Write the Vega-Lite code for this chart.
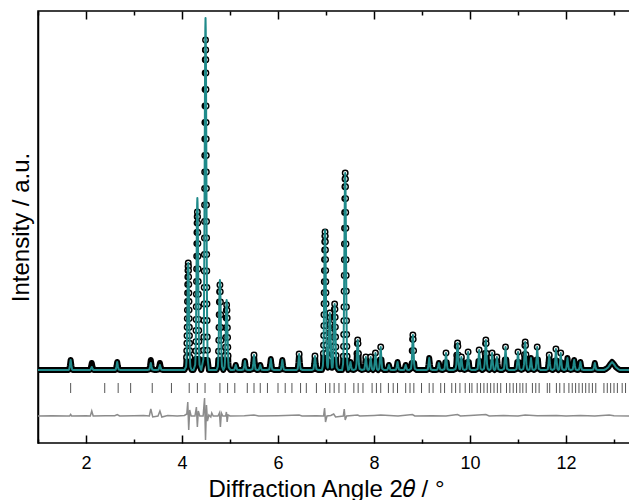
{
"$schema":"https://vega.github.io/schema/vega-lite/v6.json",
"width":592,"height":432,
"autosize":{"type":"none"},
"padding":{"left":38,"top":11,"right":0,"bottom":57},
"background":"white",
"config":{"view":{"stroke":"#000","strokeWidth":1.5},"font":"Liberation Sans"},
"resolve":{"axis":{"x":"independent","y":"independent"}},
"datasets":{
"prof":[
{"x":1,"o":73,"c":73},{"x":1.04,"o":73,"c":73},{"x":1.08,"o":73,"c":73},{"x":1.12,"o":73,"c":73},{"x":1.16,"o":73,"c":73},{"x":1.2,"o":73,"c":73},{"x":1.24,"o":73,"c":73},{"x":1.28,"o":73,"c":73},{"x":1.32,"o":73,"c":73},{"x":1.36,"o":73,"c":73},{"x":1.4,"o":73,"c":73},{"x":1.44,"o":73,"c":73},{"x":1.48,"o":73,"c":73},{"x":1.52,"o":73,"c":73},{"x":1.56,"o":73,"c":73},{"x":1.6,"o":73,"c":73},{"x":1.64,"o":73,"c":73},
{"x":1.65,"o":73.6,"c":73.6},{"x":1.665,"o":77.5,"c":77.5},{"x":1.68,"o":83,"c":83},{"x":1.695,"o":77.5,"c":77.5},{"x":1.71,"o":73.6,"c":73.6},
{"x":1.72,"o":73,"c":73},{"x":1.76,"o":73,"c":73},{"x":1.8,"o":73,"c":73},{"x":1.84,"o":73,"c":73},{"x":1.88,"o":73,"c":73},{"x":1.92,"o":73,"c":73},{"x":1.96,"o":73,"c":73},{"x":2,"o":73,"c":73},{"x":2.04,"o":73,"c":73},{"x":2.08,"o":73,"c":73},
{"x":2.09,"o":73.4,"c":73.2},{"x":2.105,"o":76.2,"c":74.4},{"x":2.12,"o":80,"c":76},{"x":2.135,"o":76.2,"c":74.4},{"x":2.15,"o":73.4,"c":73.2},
{"x":2.16,"o":73,"c":73},{"x":2.2,"o":73,"c":73},{"x":2.24,"o":73,"c":73},{"x":2.28,"o":73,"c":73},{"x":2.32,"o":73,"c":73},{"x":2.36,"o":73,"c":73},{"x":2.4,"o":73,"c":73},{"x":2.44,"o":73,"c":73},{"x":2.48,"o":73,"c":73},{"x":2.52,"o":73,"c":73},{"x":2.56,"o":73,"c":73},{"x":2.6,"o":73,"c":73},
{"x":2.62,"o":73.5,"c":73.5},{"x":2.635,"o":76.6,"c":76.6},{"x":2.65,"o":81,"c":81},{"x":2.665,"o":76.6,"c":76.6},{"x":2.68,"o":73.5,"c":73.5},
{"x":2.72,"o":73,"c":73},{"x":2.76,"o":73,"c":73},{"x":2.8,"o":73,"c":73},{"x":2.84,"o":73,"c":73},{"x":2.88,"o":73,"c":73},{"x":2.92,"o":73,"c":73},{"x":2.96,"o":73,"c":73},{"x":3,"o":73,"c":73},{"x":3.04,"o":73,"c":73},{"x":3.08,"o":73,"c":73},{"x":3.12,"o":73,"c":73},{"x":3.16,"o":73,"c":73},{"x":3.2,"o":73,"c":73},{"x":3.24,"o":73,"c":73},{"x":3.28,"o":73,"c":73},
{"x":3.32,"o":73.6,"c":73.4},{"x":3.335,"o":77.5,"c":76.2},{"x":3.35,"o":83,"c":80},{"x":3.365,"o":77.5,"c":76.2},{"x":3.38,"o":73.6,"c":73.4},
{"x":3.42,"o":73,"c":73},{"x":3.46,"o":73,"c":73},
{"x":3.51,"o":73.4,"c":73.3},{"x":3.525,"o":76.2,"c":75.3},{"x":3.54,"o":80,"c":78},{"x":3.555,"o":76.2,"c":75.3},{"x":3.57,"o":73.4,"c":73.3},
{"x":3.61,"o":73,"c":73},{"x":3.65,"o":73,"c":73},{"x":3.69,"o":73,"c":73},{"x":3.73,"o":73,"c":73},{"x":3.77,"o":73,"c":73},{"x":3.81,"o":73,"c":73},{"x":3.85,"o":73,"c":73},{"x":3.89,"o":73,"c":73},{"x":3.93,"o":73,"c":73},{"x":3.97,"o":73,"c":73},{"x":4.01,"o":73,"c":73},{"x":4.05,"o":73,"c":73},
{"x":4.085,"o":76.2,"c":76.2},{"x":4.091,"o":80.5,"c":80.5},{"x":4.095,"o":85.8,"c":85.8},{"x":4.0985,"o":92.3,"c":92.3},{"x":4.1017,"o":99.8,"c":99.8},{"x":4.1043,"o":107.2,"c":107.2},{"x":4.107,"o":115.8,"c":115.8},{"x":4.1094,"o":124.4,"c":124.4},{"x":4.1117,"o":132.9,"c":132.9},{"x":4.1139,"o":141.5,"c":141.5},{"x":4.1162,"o":150,"c":150},{"x":4.1186,"o":158.6,"c":158.6},{"x":4.121,"o":166.1,"c":166.1},{"x":4.1235,"o":172.5,"c":172.5},{"x":4.1258,"o":176.8,"c":176.8},{"x":4.13,"o":180,"c":180},
{"x":4.1342,"o":176.8,"c":176.8},{"x":4.1365,"o":172.5,"c":172.5},{"x":4.139,"o":166.1,"c":166.1},{"x":4.1414,"o":158.6,"c":158.6},{"x":4.1438,"o":150,"c":150},{"x":4.1461,"o":141.5,"c":141.5},{"x":4.1483,"o":132.9,"c":132.9},{"x":4.1506,"o":124.4,"c":124.4},{"x":4.153,"o":115.8,"c":115.8},{"x":4.1557,"o":107.2,"c":107.2},{"x":4.1583,"o":99.8,"c":99.8},{"x":4.1615,"o":92.3,"c":92.3},{"x":4.165,"o":85.8,"c":85.8},{"x":4.169,"o":80.5,"c":80.5},{"x":4.175,"o":76.2,"c":76.2},
{"x":4.2,"o":73,"c":73},{"x":4.24,"o":73,"c":73},
{"x":4.275,"o":77.7,"c":78.2},{"x":4.281,"o":84.1,"c":85},{"x":4.285,"o":92,"c":93.6},{"x":4.2885,"o":101.4,"c":104},{"x":4.2917,"o":112.5,"c":116},{"x":4.2943,"o":123.6,"c":128},{"x":4.297,"o":136.2,"c":141.8},{"x":4.2994,"o":148.8,"c":155.6},{"x":4.3017,"o":161.5,"c":169.3},{"x":4.3039,"o":174.1,"c":183.1},{"x":4.3062,"o":186.8,"c":196.8},{"x":4.3086,"o":199.4,"c":210.6},{"x":4.311,"o":210.5,"c":222.6},{"x":4.3135,"o":219.9,"c":233},{"x":4.3158,"o":226.3,"c":239.8},{"x":4.32,"o":231,"c":245},
{"x":4.3242,"o":226.3,"c":239.8},{"x":4.3265,"o":219.9,"c":233},{"x":4.329,"o":210.5,"c":222.6},{"x":4.3314,"o":199.4,"c":210.6},{"x":4.3338,"o":186.8,"c":196.8},{"x":4.3361,"o":174.1,"c":183.1},{"x":4.3383,"o":161.5,"c":169.3},{"x":4.3406,"o":148.8,"c":155.6},{"x":4.343,"o":136.2,"c":141.8},{"x":4.3457,"o":123.6,"c":128},{"x":4.3483,"o":112.5,"c":116},{"x":4.3515,"o":101.4,"c":104},{"x":4.355,"o":92,"c":93.6},{"x":4.359,"o":84.1,"c":85},{"x":4.365,"o":77.7,"c":78.2},
{"x":4.4,"o":73,"c":73},
{"x":4.445,"o":82.9,"c":83.6},{"x":4.4497,"o":92.8,"c":94.1},{"x":4.4535,"o":106,"c":108.2},{"x":4.4569,"o":122.5,"c":125.8},{"x":4.4595,"o":139,"c":143.4},{"x":4.4617,"o":155.5,"c":161},{"x":4.4636,"o":172,"c":178.6},{"x":4.4654,"o":188.5,"c":196.2},{"x":4.467,"o":205,"c":213.8},{"x":4.4685,"o":221.5,"c":231.4},{"x":4.47,"o":238,"c":249},{"x":4.4714,"o":254.5,"c":266.6},{"x":4.4728,"o":271,"c":284.2},{"x":4.4742,"o":287.5,"c":301.8},{"x":4.4756,"o":304,"c":319.4},{"x":4.4771,"o":320.5,"c":337},{"x":4.4786,"o":337,"c":354.6},{"x":4.4803,"o":353.5,"c":372.2},{"x":4.4822,"o":370,"c":389.8},{"x":4.484,"o":383.2,"c":403.9},{"x":4.4858,"o":393.1,"c":414.4},{"x":4.49,"o":403,"c":425},
{"x":4.4942,"o":393.1,"c":414.4},{"x":4.496,"o":383.2,"c":403.9},{"x":4.4978,"o":370,"c":389.8},{"x":4.4997,"o":353.5,"c":372.2},{"x":4.5014,"o":337,"c":354.6},{"x":4.5029,"o":320.5,"c":337},{"x":4.5044,"o":304,"c":319.4},{"x":4.5058,"o":287.5,"c":301.8},{"x":4.5072,"o":271,"c":284.2},{"x":4.5086,"o":254.5,"c":266.6},{"x":4.51,"o":238,"c":249},{"x":4.5115,"o":221.5,"c":231.4},{"x":4.513,"o":205,"c":213.8},{"x":4.5146,"o":188.5,"c":196.2},{"x":4.5164,"o":172,"c":178.6},{"x":4.5183,"o":155.5,"c":161},{"x":4.5205,"o":139,"c":143.4},{"x":4.5231,"o":122.5,"c":125.8},{"x":4.5265,"o":106,"c":108.2},{"x":4.5303,"o":92.8,"c":94.1},{"x":4.535,"o":82.9,"c":83.6},
{"x":4.56,"o":73,"c":73},{"x":4.6,"o":73,"c":73},{"x":4.64,"o":73,"c":73},{"x":4.68,"o":73,"c":73},{"x":4.72,"o":73,"c":73},
{"x":4.747,"o":76.4,"c":76.6},{"x":4.755,"o":83.2,"c":83.8},{"x":4.7604,"o":91.7,"c":92.8},{"x":4.7654,"o":102.8,"c":104.5},{"x":4.77,"o":115.5,"c":118},{"x":4.7742,"o":128.3,"c":131.5},{"x":4.7786,"o":141,"c":145},{"x":4.7831,"o":151.2,"c":155.8},{"x":4.79,"o":158,"c":163},{"x":4.7969,"o":151.2,"c":155.8},{"x":4.8014,"o":141,"c":145},{"x":4.8058,"o":128.3,"c":131.5},{"x":4.81,"o":115.5,"c":118},{"x":4.8146,"o":102.8,"c":104.5},{"x":4.8196,"o":91.7,"c":92.8},{"x":4.825,"o":83.2,"c":83.8},{"x":4.833,"o":76.4,"c":76.6},
{"x":4.86,"o":73,"c":73},
{"x":4.887,"o":75.6,"c":75.8},{"x":4.895,"o":80.8,"c":81.4},{"x":4.9004,"o":87.3,"c":88.4},{"x":4.9054,"o":95.8,"c":97.5},{"x":4.91,"o":105.5,"c":108},{"x":4.9142,"o":115.3,"c":118.5},{"x":4.9186,"o":125,"c":129},{"x":4.9231,"o":132.8,"c":137.4},{"x":4.93,"o":138,"c":143},{"x":4.9369,"o":132.8,"c":137.4},{"x":4.9414,"o":125,"c":129},{"x":4.9458,"o":115.3,"c":118.5},{"x":4.95,"o":105.5,"c":108},{"x":4.9546,"o":95.8,"c":97.5},{"x":4.9596,"o":87.3,"c":88.4},{"x":4.965,"o":80.8,"c":81.4},{"x":4.973,"o":75.6,"c":75.8},
{"x":5.01,"o":73,"c":73},{"x":5.05,"o":73,"c":73},
{"x":5.09,"o":73.3,"c":73.3},{"x":5.105,"o":75.3,"c":75.3},{"x":5.12,"o":78,"c":78},{"x":5.135,"o":75.3,"c":75.3},{"x":5.15,"o":73.3,"c":73.3},
{"x":5.19,"o":73,"c":73},{"x":5.24,"o":73,"c":73},
{"x":5.28,"o":73.5,"c":73.5},{"x":5.295,"o":77,"c":77},{"x":5.31,"o":82,"c":82},{"x":5.325,"o":77,"c":77},{"x":5.34,"o":73.5,"c":73.5},
{"x":5.38,"o":73,"c":73},{"x":5.42,"o":73,"c":73},
{"x":5.47,"o":73.9,"c":73.9},{"x":5.485,"o":79.8,"c":79.8},{"x":5.5,"o":88,"c":88},{"x":5.515,"o":79.8,"c":79.8},{"x":5.53,"o":73.9,"c":73.9},
{"x":5.565,"o":73,"c":73},
{"x":5.6,"o":73.3,"c":73.3},{"x":5.615,"o":75.3,"c":75.3},{"x":5.63,"o":78,"c":78},{"x":5.645,"o":75.3,"c":75.3},{"x":5.66,"o":73.3,"c":73.3},
{"x":5.7,"o":73,"c":73},{"x":5.74,"o":73,"c":73},{"x":5.78,"o":73,"c":73},
{"x":5.82,"o":73.7,"c":73.7},{"x":5.835,"o":78,"c":78},{"x":5.85,"o":84,"c":84},{"x":5.865,"o":78,"c":78},{"x":5.88,"o":73.7,"c":73.7},
{"x":5.92,"o":73,"c":73},{"x":5.96,"o":73,"c":73},{"x":6,"o":73,"c":73},{"x":6.04,"o":73,"c":73},
{"x":6.06,"o":73.6,"c":73.6},{"x":6.075,"o":77.5,"c":77.5},{"x":6.09,"o":83,"c":83},{"x":6.105,"o":77.5,"c":77.5},{"x":6.12,"o":73.6,"c":73.6},
{"x":6.16,"o":73,"c":73},{"x":6.2,"o":73,"c":73},{"x":6.24,"o":73,"c":73},{"x":6.28,"o":73,"c":73},{"x":6.32,"o":73,"c":73},{"x":6.36,"o":73,"c":73},{"x":6.385,"o":73,"c":73},
{"x":6.41,"o":74,"c":74},{"x":6.425,"o":80.2,"c":80.2},{"x":6.44,"o":89,"c":89},{"x":6.455,"o":80.2,"c":80.2},{"x":6.47,"o":74,"c":74},
{"x":6.51,"o":73,"c":73},{"x":6.55,"o":73,"c":73},{"x":6.59,"o":73,"c":73},{"x":6.63,"o":73,"c":73},{"x":6.67,"o":73,"c":73},{"x":6.71,"o":73,"c":73},
{"x":6.74,"o":73.8,"c":73.8},{"x":6.755,"o":79.3,"c":79.3},{"x":6.77,"o":87,"c":87},{"x":6.785,"o":79.3,"c":79.3},{"x":6.8,"o":73.8,"c":73.8},
{"x":6.84,"o":73,"c":73},{"x":6.88,"o":73,"c":73},{"x":6.915,"o":73,"c":73},
{"x":6.935,"o":77.1,"c":77.2},{"x":6.941,"o":82.7,"c":82.8},{"x":6.945,"o":89.6,"c":89.8},{"x":6.9485,"o":97.8,"c":98.2},{"x":6.9517,"o":107.5,"c":108},{"x":6.9543,"o":117.2,"c":117.8},{"x":6.957,"o":128.2,"c":129},{"x":6.9594,"o":139.2,"c":140.2},{"x":6.9617,"o":150.3,"c":151.4},{"x":6.9639,"o":161.3,"c":162.6},{"x":6.9662,"o":172.4,"c":173.8},{"x":6.9686,"o":183.4,"c":185},{"x":6.971,"o":193.1,"c":194.8},{"x":6.9735,"o":201.3,"c":203.2},{"x":6.9758,"o":206.9,"c":208.8},{"x":6.98,"o":211,"c":213},
{"x":6.9842,"o":206.9,"c":208.8},{"x":6.9865,"o":201.3,"c":203.2},{"x":6.989,"o":193.1,"c":194.8},{"x":6.9914,"o":183.4,"c":185},{"x":6.9938,"o":172.4,"c":173.8},{"x":6.9961,"o":161.3,"c":162.6},{"x":6.9983,"o":150.3,"c":151.4},{"x":7.0006,"o":139.2,"c":140.2},{"x":7.003,"o":128.2,"c":129},{"x":7.0057,"o":117.2,"c":117.8},{"x":7.0083,"o":107.5,"c":108},{"x":7.0115,"o":97.8,"c":98.2},{"x":7.015,"o":89.6,"c":89.8},{"x":7.019,"o":82.7,"c":82.8},{"x":7.025,"o":77.1,"c":77.2},
{"x":7.037,"o":75.3,"c":75.3},{"x":7.045,"o":79.8,"c":79.8},{"x":7.0504,"o":85.5,"c":85.5},{"x":7.0554,"o":93,"c":93},{"x":7.06,"o":101.5,"c":101.5},{"x":7.0642,"o":110.1,"c":110.1},{"x":7.0686,"o":118.6,"c":118.6},{"x":7.0731,"o":125.4,"c":125.4},{"x":7.08,"o":130,"c":130},{"x":7.0869,"o":125.4,"c":125.4},{"x":7.0914,"o":118.6,"c":118.6},{"x":7.0958,"o":110.1,"c":110.1},{"x":7.1,"o":101.5,"c":101.5},{"x":7.1046,"o":93,"c":93},{"x":7.1096,"o":85.5,"c":85.5},{"x":7.115,"o":79.8,"c":79.8},{"x":7.123,"o":75.3,"c":75.3},
{"x":7.137,"o":75.6,"c":75.6},{"x":7.145,"o":80.9,"c":80.9},{"x":7.1504,"o":87.5,"c":87.5},{"x":7.1554,"o":96.1,"c":96.1},{"x":7.16,"o":106,"c":106},{"x":7.1642,"o":115.9,"c":115.9},{"x":7.1686,"o":125.8,"c":125.8},{"x":7.1731,"o":133.7,"c":133.7},{"x":7.18,"o":139,"c":139},{"x":7.1869,"o":133.7,"c":133.7},{"x":7.1914,"o":125.8,"c":125.8},{"x":7.1958,"o":115.9,"c":115.9},{"x":7.2,"o":106,"c":106},{"x":7.2046,"o":96.1,"c":96.1},{"x":7.2096,"o":87.5,"c":87.5},{"x":7.215,"o":80.9,"c":80.9},{"x":7.223,"o":75.6,"c":75.6},
{"x":7.26,"o":73,"c":73},{"x":7.3,"o":73,"c":73},{"x":7.335,"o":73,"c":73},
{"x":7.355,"o":78.9,"c":78.9},{"x":7.361,"o":86.8,"c":86.8},{"x":7.365,"o":96.6,"c":96.6},{"x":7.3685,"o":108.5,"c":108.5},{"x":7.3717,"o":122.3,"c":122.3},{"x":7.3743,"o":136,"c":136},{"x":7.377,"o":151.8,"c":151.8},{"x":7.3794,"o":167.6,"c":167.6},{"x":7.3817,"o":183.3,"c":183.3},{"x":7.3839,"o":199.1,"c":199.1},{"x":7.3862,"o":214.8,"c":214.8},{"x":7.3886,"o":230.6,"c":230.6},{"x":7.391,"o":244.4,"c":244.4},{"x":7.3935,"o":256.2,"c":256.2},{"x":7.3958,"o":264.1,"c":264.1},{"x":7.4,"o":270,"c":270},
{"x":7.4042,"o":264.1,"c":264.1},{"x":7.4065,"o":256.2,"c":256.2},{"x":7.409,"o":244.4,"c":244.4},{"x":7.4114,"o":230.6,"c":230.6},{"x":7.4138,"o":214.8,"c":214.8},{"x":7.4161,"o":199.1,"c":199.1},{"x":7.4183,"o":183.3,"c":183.3},{"x":7.4206,"o":167.6,"c":167.6},{"x":7.423,"o":151.8,"c":151.8},{"x":7.4257,"o":136,"c":136},{"x":7.4283,"o":122.3,"c":122.3},{"x":7.4315,"o":108.5,"c":108.5},{"x":7.435,"o":96.6,"c":96.6},{"x":7.439,"o":86.8,"c":86.8},{"x":7.445,"o":78.9,"c":78.9},
{"x":7.462,"o":73,"c":73},
{"x":7.48,"o":73.5,"c":73.5},{"x":7.495,"o":76.6,"c":76.6},{"x":7.51,"o":81,"c":81},{"x":7.525,"o":76.6,"c":76.6},{"x":7.54,"o":73.5,"c":73.5},
{"x":7.58,"o":73,"c":73},
{"x":7.62,"o":74.2,"c":74.2},{"x":7.635,"o":79,"c":79},{"x":7.645,"o":89.5,"c":89.5},{"x":7.653,"o":99.4,"c":99.4},{"x":7.66,"o":103,"c":103},{"x":7.667,"o":99.4,"c":99.4},{"x":7.675,"o":89.5,"c":89.5},{"x":7.685,"o":79,"c":79},{"x":7.7,"o":74.2,"c":74.2},
{"x":7.75,"o":73,"c":73},
{"x":7.8,"o":73.8,"c":73.8},{"x":7.815,"o":78.9,"c":78.9},{"x":7.83,"o":86,"c":86},{"x":7.845,"o":78.9,"c":78.9},{"x":7.86,"o":73.8,"c":73.8},
{"x":7.88,"o":73,"c":73},
{"x":7.9,"o":73.8,"c":73.8},{"x":7.915,"o":78.9,"c":78.9},{"x":7.93,"o":86,"c":86},{"x":7.945,"o":78.9,"c":78.9},{"x":7.96,"o":73.8,"c":73.8},
{"x":7.98,"o":73,"c":73},
{"x":8,"o":74,"c":74},{"x":8.015,"o":80.7,"c":80.7},{"x":8.03,"o":90,"c":90},{"x":8.045,"o":80.7,"c":80.7},{"x":8.06,"o":74,"c":74},
{"x":8.085,"o":73,"c":73},
{"x":8.11,"o":74.4,"c":74.4},{"x":8.125,"o":83.4,"c":83.4},{"x":8.14,"o":96,"c":96},{"x":8.155,"o":83.4,"c":83.4},{"x":8.17,"o":74.4,"c":74.4},
{"x":8.21,"o":73,"c":73},{"x":8.25,"o":73,"c":73},
{"x":8.28,"o":73.3,"c":73.3},{"x":8.295,"o":75.3,"c":75.3},{"x":8.31,"o":78,"c":78},{"x":8.325,"o":75.3,"c":75.3},{"x":8.34,"o":73.3,"c":73.3},
{"x":8.38,"o":73,"c":73},{"x":8.42,"o":73,"c":73},
{"x":8.46,"o":73.5,"c":73.5},{"x":8.475,"o":76.6,"c":76.6},{"x":8.49,"o":81,"c":81},{"x":8.505,"o":76.6,"c":76.6},{"x":8.52,"o":73.5,"c":73.5},
{"x":8.56,"o":73,"c":73},{"x":8.6,"o":73,"c":73},
{"x":8.63,"o":73.3,"c":73.3},{"x":8.645,"o":75.3,"c":75.3},{"x":8.66,"o":78,"c":78},{"x":8.675,"o":75.3,"c":75.3},{"x":8.69,"o":73.3,"c":73.3},
{"x":8.73,"o":73,"c":73},
{"x":8.77,"o":74.4,"c":74.4},{"x":8.785,"o":80,"c":80},{"x":8.795,"o":92.3,"c":92.3},{"x":8.803,"o":103.8,"c":103.8},{"x":8.81,"o":108,"c":108},{"x":8.817,"o":103.8,"c":103.8},{"x":8.825,"o":92.3,"c":92.3},{"x":8.835,"o":80,"c":80},{"x":8.85,"o":74.4,"c":74.4},
{"x":8.89,"o":73,"c":73},{"x":8.93,"o":73,"c":73},{"x":8.97,"o":73,"c":73},{"x":9.01,"o":73,"c":73},{"x":9.05,"o":73,"c":73},{"x":9.09,"o":73,"c":73},
{"x":9.12,"o":73.7,"c":73.7},{"x":9.135,"o":78.4,"c":78.4},{"x":9.15,"o":85,"c":85},{"x":9.165,"o":78.4,"c":78.4},{"x":9.18,"o":73.7,"c":73.7},
{"x":9.22,"o":73,"c":73},{"x":9.26,"o":73,"c":73},{"x":9.295,"o":73,"c":73},
{"x":9.32,"o":73.4,"c":73.4},{"x":9.335,"o":76.2,"c":76.2},{"x":9.35,"o":80,"c":80},{"x":9.365,"o":76.2,"c":76.2},{"x":9.38,"o":73.4,"c":73.4},
{"x":9.425,"o":73,"c":73},
{"x":9.47,"o":74,"c":74},{"x":9.485,"o":80.7,"c":80.7},{"x":9.5,"o":90,"c":90},{"x":9.515,"o":80.7,"c":80.7},{"x":9.53,"o":74,"c":74},
{"x":9.57,"o":73,"c":73},{"x":9.61,"o":73,"c":73},{"x":9.65,"o":73,"c":73},
{"x":9.7,"o":74.1,"c":74.1},{"x":9.715,"o":78.4,"c":78.4},{"x":9.725,"o":87.9,"c":87.9},{"x":9.733,"o":96.8,"c":96.8},{"x":9.74,"o":100,"c":100},{"x":9.747,"o":96.8,"c":96.8},{"x":9.755,"o":87.9,"c":87.9},{"x":9.765,"o":78.4,"c":78.4},{"x":9.78,"o":74.1,"c":74.1},
{"x":9.79,"o":73.8,"c":73.8},{"x":9.805,"o":78.9,"c":78.9},{"x":9.82,"o":86,"c":86},{"x":9.835,"o":78.9,"c":78.9},{"x":9.85,"o":73.8,"c":73.8},
{"x":9.89,"o":73,"c":73},
{"x":9.93,"o":74.1,"c":74.1},{"x":9.945,"o":81.1,"c":81.1},{"x":9.96,"o":91,"c":91},{"x":9.975,"o":81.1,"c":81.1},{"x":9.99,"o":74.1,"c":74.1},
{"x":10.03,"o":73,"c":73},{"x":10.07,"o":73,"c":73},{"x":10.11,"o":73,"c":73},
{"x":10.16,"o":74.2,"c":74.2},{"x":10.175,"o":82,"c":82},{"x":10.19,"o":93,"c":93},{"x":10.205,"o":82,"c":82},{"x":10.22,"o":74.2,"c":74.2},
{"x":10.255,"o":73,"c":73},
{"x":10.29,"o":74.2,"c":74.2},{"x":10.305,"o":79,"c":79},{"x":10.315,"o":89.5,"c":89.5},{"x":10.323,"o":99.4,"c":99.4},{"x":10.33,"o":103,"c":103},{"x":10.337,"o":99.4,"c":99.4},{"x":10.345,"o":89.5,"c":89.5},{"x":10.355,"o":79,"c":79},{"x":10.37,"o":74.2,"c":74.2},
{"x":10.4,"o":73,"c":73},
{"x":10.43,"o":74,"c":74},{"x":10.445,"o":80.7,"c":80.7},{"x":10.46,"o":90,"c":90},{"x":10.475,"o":80.7,"c":80.7},{"x":10.49,"o":74,"c":74},
{"x":10.51,"o":73,"c":73},
{"x":10.53,"o":73.8,"c":73.8},{"x":10.545,"o":78.9,"c":78.9},{"x":10.56,"o":86,"c":86},{"x":10.575,"o":78.9,"c":78.9},{"x":10.59,"o":73.8,"c":73.8},
{"x":10.63,"o":73,"c":73},{"x":10.67,"o":73,"c":73},
{"x":10.71,"o":74.4,"c":74.4},{"x":10.725,"o":83.4,"c":83.4},{"x":10.74,"o":96,"c":96},{"x":10.755,"o":83.4,"c":83.4},{"x":10.77,"o":74.4,"c":74.4},
{"x":10.81,"o":73,"c":73},{"x":10.85,"o":73,"c":73},{"x":10.89,"o":73,"c":73},{"x":10.93,"o":73,"c":73},
{"x":10.97,"o":74.1,"c":74.1},{"x":10.985,"o":81.1,"c":81.1},{"x":11,"o":91,"c":91},{"x":11.015,"o":81.1,"c":81.1},{"x":11.03,"o":74.1,"c":74.1},
{"x":11.07,"o":73,"c":73},
{"x":11.11,"o":74.1,"c":74.1},{"x":11.125,"o":78.6,"c":78.6},{"x":11.135,"o":88.4,"c":88.4},{"x":11.143,"o":97.6,"c":97.6},{"x":11.15,"o":101,"c":101},{"x":11.157,"o":97.6,"c":97.6},{"x":11.165,"o":88.4,"c":88.4},{"x":11.175,"o":78.6,"c":78.6},{"x":11.19,"o":74.1,"c":74.1},
{"x":11.215,"o":73,"c":73},
{"x":11.24,"o":73.7,"c":73.7},{"x":11.255,"o":78.4,"c":78.4},{"x":11.27,"o":85,"c":85},{"x":11.285,"o":78.4,"c":78.4},{"x":11.3,"o":73.7,"c":73.7},
{"x":11.335,"o":73,"c":73},
{"x":11.37,"o":74.4,"c":74.4},{"x":11.385,"o":83.4,"c":83.4},{"x":11.4,"o":96,"c":96},{"x":11.415,"o":83.4,"c":83.4},{"x":11.43,"o":74.4,"c":74.4},
{"x":11.47,"o":73,"c":73},{"x":11.51,"o":73,"c":73},{"x":11.55,"o":73,"c":73},{"x":11.59,"o":73,"c":73},
{"x":11.62,"o":73.9,"c":73.9},{"x":11.635,"o":79.8,"c":79.8},{"x":11.65,"o":88,"c":88},{"x":11.665,"o":79.8,"c":79.8},{"x":11.68,"o":73.9,"c":73.9},
{"x":11.72,"o":73,"c":73},
{"x":11.76,"o":74.3,"c":74.3},{"x":11.775,"o":82.5,"c":82.5},{"x":11.79,"o":94,"c":94},{"x":11.805,"o":82.5,"c":82.5},{"x":11.82,"o":74.3,"c":74.3},
{"x":11.84,"o":73,"c":73},
{"x":11.86,"o":74,"c":74},{"x":11.875,"o":80.7,"c":80.7},{"x":11.89,"o":90,"c":90},{"x":11.905,"o":80.7,"c":80.7},{"x":11.92,"o":74,"c":74},
{"x":11.96,"o":73,"c":73},
{"x":12,"o":73.7,"c":73.7},{"x":12.015,"o":78.4,"c":78.4},{"x":12.03,"o":85,"c":85},{"x":12.045,"o":78.4,"c":78.4},{"x":12.06,"o":73.7,"c":73.7},
{"x":12.1,"o":73,"c":73},
{"x":12.14,"o":73.6,"c":73.6},{"x":12.155,"o":77.5,"c":77.5},{"x":12.17,"o":83,"c":83},{"x":12.185,"o":77.5,"c":77.5},{"x":12.2,"o":73.6,"c":73.6},
{"x":12.235,"o":73,"c":73},
{"x":12.27,"o":73.5,"c":73.5},{"x":12.285,"o":76.6,"c":76.6},{"x":12.3,"o":81,"c":81},{"x":12.315,"o":76.6,"c":76.6},{"x":12.33,"o":73.5,"c":73.5},
{"x":12.37,"o":73,"c":73},{"x":12.41,"o":73,"c":73},{"x":12.45,"o":73,"c":73},{"x":12.49,"o":73,"c":73},{"x":12.53,"o":73,"c":73},
{"x":12.57,"o":73.4,"c":73.4},{"x":12.585,"o":76.2,"c":76.2},{"x":12.6,"o":80,"c":80},{"x":12.615,"o":76.2,"c":76.2},{"x":12.63,"o":73.4,"c":73.4},
{"x":12.67,"o":73,"c":73},{"x":12.71,"o":73,"c":73},{"x":12.75,"o":73,"c":73},{"x":12.79,"o":73,"c":73},
{"x":12.84,"o":74.2,"c":74.2},{"x":12.88,"o":75.8,"c":75.8},{"x":12.92,"o":78.6,"c":78.6},{"x":12.96,"o":81,"c":81},{"x":13,"o":78.6,"c":78.6},{"x":13.04,"o":75.8,"c":75.8},{"x":13.08,"o":74.2,"c":74.2},
{"x":13.12,"o":73,"c":73},{"x":13.16,"o":73,"c":73},{"x":13.2,"o":73,"c":73},{"x":13.24,"o":73,"c":73},{"x":13.28,"o":73,"c":73},{"x":13.32,"o":73,"c":73}
],
"diff":[
{"x":1,"d":27},{"x":1.3,"d":27.3},{"x":1.6,"d":27},{"x":1.66,"d":27},{"x":1.68,"d":28.5},{"x":1.7,"d":27},{"x":2,"d":27.3},{"x":2.09,"d":27},{"x":2.12,"d":32},{"x":2.15,"d":27},{"x":2.4,"d":27.3},{"x":2.6,"d":27.3},{"x":2.65,"d":28.5},{"x":2.7,"d":27},{"x":3,"d":27.3},{"x":3.2,"d":27.6},{"x":3.32,"d":27},{"x":3.35,"d":34},{"x":3.39,"d":26},{"x":3.5,"d":27},{"x":3.54,"d":32},{"x":3.58,"d":26},{"x":3.7,"d":27.5},{"x":3.9,"d":27},{"x":4.05,"d":27.5},
{"x":4.1,"d":29},{"x":4.12,"d":41},{"x":4.14,"d":13},{"x":4.16,"d":33},{"x":4.19,"d":27},{"x":4.27,"d":27},{"x":4.3,"d":36},{"x":4.32,"d":16},{"x":4.34,"d":32},{"x":4.37,"d":27},{"x":4.44,"d":27},{"x":4.47,"d":45},{"x":4.49,"d":3},{"x":4.51,"d":38},{"x":4.53,"d":22},{"x":4.56,"d":28},{"x":4.6,"d":26},{"x":4.62,"d":30},{"x":4.65,"d":27},{"x":4.75,"d":27},{"x":4.78,"d":30},{"x":4.8,"d":16},{"x":4.82,"d":30},{"x":4.85,"d":27},{"x":4.91,"d":27},{"x":4.925,"d":31},{"x":4.94,"d":21},{"x":4.96,"d":28},{"x":5,"d":27},
{"x":5.3,"d":27.3},{"x":5.5,"d":28},{"x":5.6,"d":27},{"x":6,"d":27.3},{"x":6.44,"d":28},{"x":6.5,"d":27},{"x":6.8,"d":27.3},{"x":6.95,"d":27},{"x":6.97,"d":35},{"x":6.99,"d":21},{"x":7.02,"d":27},{"x":7.1,"d":27.5},{"x":7.16,"d":29},{"x":7.2,"d":26},{"x":7.36,"d":27},{"x":7.38,"d":34},{"x":7.4,"d":23},{"x":7.43,"d":27},{"x":7.66,"d":28},{"x":7.7,"d":27},{"x":8,"d":27.6},{"x":8.14,"d":28},{"x":8.5,"d":27},{"x":8.8,"d":28.5},{"x":8.85,"d":27},{"x":9.2,"d":27.3},{"x":9.5,"d":27},{"x":9.74,"d":28.5},{"x":9.8,"d":27},{"x":10,"d":27.5},{"x":10.33,"d":28.5},{"x":10.4,"d":27},{"x":10.7,"d":27.5},{"x":11,"d":27},{"x":11.15,"d":28},{"x":11.4,"d":27.3},{"x":11.8,"d":27.6},{"x":12,"d":27},{"x":12.3,"d":27.4},{"x":12.6,"d":27},{"x":12.9,"d":28},{"x":13,"d":27.3},{"x":13.333,"d":27}
],
"refl":[
{"x":1.68},{"x":2.39},{"x":2.67},{"x":2.93},{"x":3.38},{"x":3.78},{"x":4.15},{"x":4.32},{"x":4.48},{"x":4.79},{"x":4.95},{"x":5.1},{"x":5.36},{"x":5.5},{"x":5.63},{"x":5.78},{"x":6.0},{"x":6.15},{"x":6.29},{"x":6.47},{"x":6.59},{"x":6.8},{"x":6.99},{"x":7.08},{"x":7.17},{"x":7.27},{"x":7.4},{"x":7.58},{"x":7.67},{"x":7.77},{"x":7.96},{"x":8.05},{"x":8.14},{"x":8.3},{"x":8.4},{"x":8.49},{"x":8.66},{"x":8.75},{"x":8.83},{"x":8.99},{"x":9.15},{"x":9.23},{"x":9.39},{"x":9.47},{"x":9.62},{"x":9.7},{"x":9.79},{"x":9.9},{"x":9.99},{"x":10.04},{"x":10.15},{"x":10.22},{"x":10.29},{"x":10.36},{"x":10.43},{"x":10.5},{"x":10.57},{"x":10.64},{"x":10.76},{"x":10.83},{"x":10.9},{"x":10.97},{"x":11.04},{"x":11.1},{"x":11.17},{"x":11.3},{"x":11.37},{"x":11.44},{"x":11.61},{"x":11.66},{"x":11.8},{"x":11.87},{"x":11.96},{"x":12.06},{"x":12.13},{"x":12.2},{"x":12.27},{"x":12.34},{"x":12.41},{"x":12.48},{"x":12.55},{"x":12.62},{"x":12.79},{"x":12.86},{"x":12.93},{"x":13.0},{"x":13.07},{"x":13.17},{"x":13.24}
]
},
"layer":[
{"data":{"name":"diff"},"mark":{"type":"line","color":"#8c8c8c","strokeWidth":1.5,"clip":true},
 "encoding":{"x":{"field":"x","type":"quantitative","scale":{"domain":[1,13.333],"nice":false,"zero":false},"axis":null},
  "y":{"field":"d","type":"quantitative","scale":{"domain":[0,432],"nice":false,"zero":false},"title":"Intensity / a.u.",
   "axis":{"orient":"left","domain":true,"domainColor":"#000","domainWidth":1.5,"ticks":false,"labels":false,"grid":false,"titleFont":"Liberation Sans","titleFontSize":24,"titleFontWeight":"normal","titleColor":"#000","titlePadding":5}}}},
{"data":{"name":"refl"},"mark":{"type":"rule","color":"#555555","strokeWidth":1},
 "encoding":{"x":{"field":"x","type":"quantitative","axis":null},"y":{"datum":50,"axis":null},"y2":{"datum":60}}},
{"data":{"name":"prof"},"transform":[{"filter":"datum.o < 90"}],"mark":{"type":"line","color":"#000","strokeWidth":6,"strokeJoin":"round","clip":true},
 "encoding":{"x":{"field":"x","type":"quantitative","axis":null},"y":{"field":"o","type":"quantitative","axis":null}}},
{"data":{"name":"prof"},"transform":[{"filter":"datum.o > 85"}],"mark":{"type":"point","shape":"circle","filled":false,"fill":"#fff","fillOpacity":1,"stroke":"#000","strokeWidth":1.4,"size":30,"clip":true},
 "encoding":{"x":{"field":"x","type":"quantitative","title":"Diffraction Angle 2𝜃 / °",
   "axis":{"orient":"bottom","values":[1,2,3,4,5,6,7,8,9,10,11,12,13],"labelExpr":"datum.value % 2 == 0 ? datum.label : ''","domain":false,"grid":false,"tickColor":"#000","tickWidth":1.5,"tickSize":{"condition":{"test":"datum.value % 2 == 0","value":-8},"value":-4},"labelFont":"Liberation Sans","labelFontSize":18,"labelColor":"#000","labelPadding":19,"labelFlush":false,"titleFont":"Liberation Sans","titleFontSize":24,"titleFontWeight":"normal","titleColor":"#000","titlePadding":5,"titleX":288}},
  "y":{"field":"o","type":"quantitative","axis":null}}},
{"data":{"name":"prof"},"mark":{"type":"line","color":"#1f8a8a","strokeWidth":2,"strokeJoin":"round","clip":true},
 "encoding":{"x":{"field":"x","type":"quantitative","axis":{"orient":"top","values":[1,2,3,4,5,6,7,8,9,10,11,12,13],"labels":false,"domain":false,"grid":false,"title":null,"tickColor":"#000","tickWidth":1.5,"tickSize":{"condition":{"test":"datum.value % 2 == 0","value":-8},"value":-4}}},
  "y":{"field":"c","type":"quantitative","axis":null}}}
]
}
